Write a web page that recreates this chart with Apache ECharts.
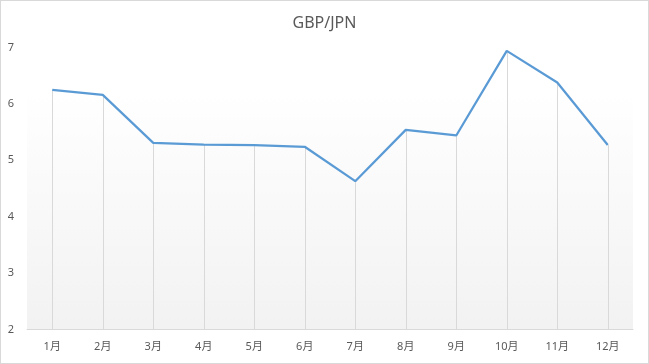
<!DOCTYPE html>
<html><head><meta charset="utf-8">
<script src="https://cdn.jsdelivr.net/npm/echarts@6/dist/echarts.min.js"></script>
<style>
html,body{margin:0;padding:0;background:#fff;}
#c{width:649px;height:364px;box-sizing:border-box;border:1px solid #d9d9d9;}
</style></head><body>
<div id="c"></div>
<script>
const titleText = 'GBP/JPN';
const categories = ['1月','2月','3月','4月','5月','6月','7月','8月','9月','10月','11月','12月'];
const values = [6.25, 6.16, 5.31, 5.28, 5.27, 5.24, 4.63, 5.54, 5.44, 6.94, 6.38, 5.27];
const yMin = 2, yMax = 7;

const chart = echarts.init(document.getElementById('c'));
const font = '"Noto Sans", "Noto Sans CJK SC", sans-serif';
chart.setOption({
  animation: false,
  title: {text: titleText, left: 'center', top: 9,
    textStyle: {fontSize: 16, fontWeight: 'normal', color: '#595959', fontFamily: font}},
  grid: {left: 26, right: 15, top: 46.5, bottom: 33.5, show: true, borderWidth: 0,
    backgroundColor: new echarts.graphic.LinearGradient(0, 0, 0, 1, [
      {offset: 0, color: '#ffffff'}, {offset: 0.15, color: '#ffffff'}, {offset: 1, color: '#f2f2f2'}])},
  xAxis: {type: 'category', data: categories, boundaryGap: true,
    axisLine: {lineStyle: {color: '#d9d9d9', width: 1}},
    axisTick: {show: false},
    axisLabel: {color: '#595959', fontSize: 11, fontFamily: font, margin: 12}},
  yAxis: {type: 'value', min: yMin, max: yMax, interval: 1,
    axisLine: {show: false}, axisTick: {show: false}, splitLine: {show: false},
    axisLabel: {color: '#595959', fontSize: 11, fontFamily: font, margin: 13}},
  series: [{
    type: 'line', data: values, symbol: 'none',
    lineStyle: {color: '#5b9bd5', width: 2.25},
    z: 3,
    markLine: {
      silent: true, symbol: 'none', label: {show: false},
      lineStyle: {color: '#d9d9d9', width: 1, type: 'solid'},
      z: 1,
      data: values.map((v, i) => [{coord: [i, v]}, {coord: [i, yMin]}])
    }
  }]
});
</script>
</body></html>
